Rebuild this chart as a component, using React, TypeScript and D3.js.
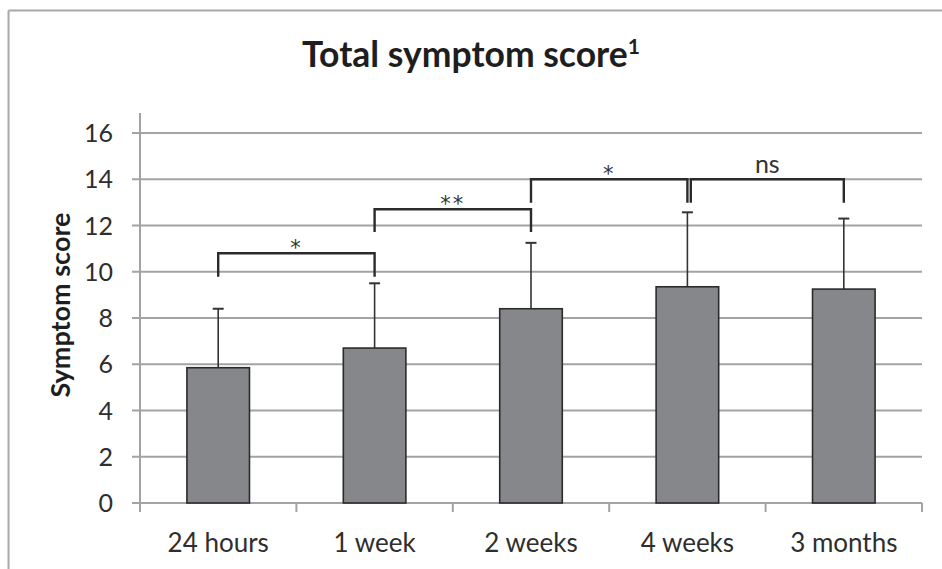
import React from "react";
import * as d3 from "d3";

const categories = ["24 hours", "1 week", "2 weeks", "4 weeks", "3 months"];
const means = [5.85, 6.7, 8.4, 9.35, 9.25];
const sds = [2.55, 2.8, 2.85, 3.22, 3.05];
const yTicks = [0, 2, 4, 6, 8, 10, 12, 14, 16];

const bracketFrom = ["24 hours", "1 week", "2 weeks", "4 weeks"];
const bracketTo = ["1 week", "2 weeks", "4 weeks", "3 months"];
const bracketLevel = [10.8, 12.7, 14.0, 14.0];
const bracketLegEnd = [9.78, 11.72, 12.98, 12.98];
const bracketLabels = ["*", "**", "*", "ns"];

const W = 942;
const H = 569;
const FONT = "Lato, 'Open Sans', sans-serif";

export default function App() {
  const left = 140;
  const right = 922;
  const y = d3.scaleLinear().domain([0, 16]).range([503, 133]);
  const xBand = d3.scaleBand<string>().domain(categories).range([left, right]).paddingInner(0.6).paddingOuter(0.3);
  const xCat = d3.scaleBand<string>().domain(categories).range([left, right]).padding(0);
  const center = (c: string) => (xCat(c) as number) + xCat.bandwidth() / 2;
  const boundaries = [...categories.map((c) => xCat(c) as number), right];

  return (
    <svg width={W} height={H} style={{ position: "absolute", left: 0, top: 0, background: "#fff" }} fontFamily={FONT}>
      <rect x={0} y={0} width={W} height={H} fill="#fff" />
      {/* outer frame */}
      <line x1={8.5} x2={W} y1={10.5} y2={10.5} stroke="#a8a8a8" strokeWidth={2} />
      <line x1={8.5} x2={8.5} y1={10.5} y2={H} stroke="#a8a8a8" strokeWidth={2} />

      {/* title */}
      <text x={471} y={67} textAnchor="middle" fontSize={35.5} fontWeight={700} fill="#1e1e1e">
        Total symptom score
        <tspan fontSize={21} dy={-13}>1</tspan>
      </text>

      {/* gridlines + y ticks */}
      {yTicks.map((t) => (
        <g key={t}>
          <line x1={132} x2={right} y1={y(t)} y2={y(t)} stroke="#a3a3a3" strokeWidth={2} />
          <text x={113} y={y(t)} dy="0.36em" textAnchor="end" fontSize={25} fill="#2e2e2e">
            {t}
          </text>
        </g>
      ))}
      {/* y axis */}
      <line x1={left} x2={left} y1={113} y2={512} stroke="#a3a3a3" strokeWidth={2} />
      {/* x ticks */}
      {boundaries.map((b, i) => (
        <line key={i} x1={b} x2={b} y1={503} y2={512} stroke="#a3a3a3" strokeWidth={2} />
      ))}
      {/* x labels */}
      {categories.map((c) => (
        <text key={c} x={center(c)} y={551.5} textAnchor="middle" fontSize={26} fill="#2e2e2e">
          {c}
        </text>
      ))}

      {/* y title */}
      <text
        transform={`translate(70,305) rotate(-90)`}
        textAnchor="middle"
        fontSize={27}
        fontWeight={700}
        fill="#1e1e1e"
      >
        Symptom score
      </text>

      {/* bars */}
      {categories.map((c, i) => {
        const bx = xBand(c) as number;
        const cx = center(c);
        const top = y(means[i]);
        const et = y(means[i] + sds[i]);
        return (
          <g key={c}>
            <line x1={cx} x2={cx} y1={top} y2={et} stroke="#333" strokeWidth={1.6} />
            <line x1={cx - 5.5} x2={cx + 5.5} y1={et} y2={et} stroke="#333" strokeWidth={2} />
            <rect x={bx} y={top} width={xBand.bandwidth()} height={y(0) - top} fill="#86878b" stroke="#2b2b2b" strokeWidth={1.6} />
          </g>
        );
      })}

      {/* significance brackets */}
      {bracketFrom.map((f, i) => {
        const x1 = center(f) + (i === 3 ? 3.4 : 0);
        const x2 = center(bracketTo[i]);
        const yl = y(bracketLevel[i]);
        const yb = y(bracketLegEnd[i]);
        const lab = bracketLabels[i];
        const isStar = lab.includes("*");
        return (
          <g key={i}>
            <path d={`M${x1},${yb}V${yl}H${x2}V${yb}`} fill="none" stroke="#2b2b2b" strokeWidth={2.4} />
            <text
              x={(x1 + x2) / 2}
              y={isStar ? yl + 2 : yl - 6}
              textAnchor="middle"
              fontSize={isStar ? 21 : 25}
              fontFamily={isStar ? "'DejaVu Sans', sans-serif" : FONT}
              fill="#333"
              letterSpacing={isStar ? 2 : 0}
            >
              {lab}
            </text>
          </g>
        );
      })}
    </svg>
  );
}
